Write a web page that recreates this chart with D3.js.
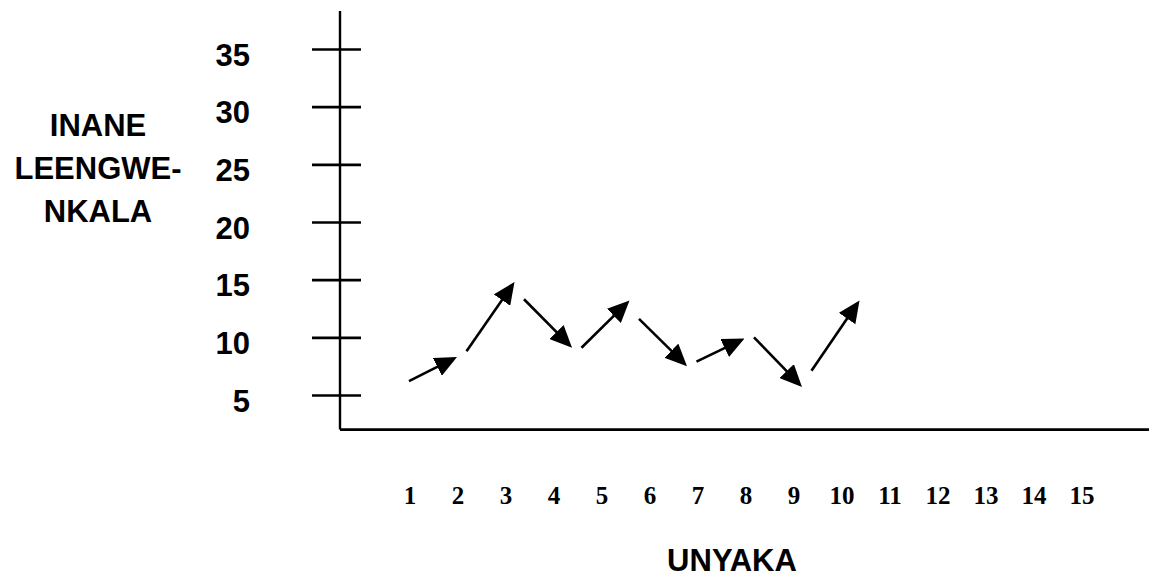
<!DOCTYPE html>
<body style="margin:0">
<svg width="1149" height="578"></svg>
<script src="https://d3js.org/d3.v7.min.js"></script>
<script>

// chart values
var years = d3.range(1, 16);
var yTicks = [5, 10, 15, 20, 25, 30, 35];
var arrowFrom = [6.2, 8.8, 13.3, 9.1, 11.6, 7.9, 10.0, 7.1];
var arrowTo   = [8.3, 14.8, 9.1, 13.2, 7.5, 9.9, 5.7, 13.2];
var yTitle = ["INANE", "LEENGWE-", "NKALA"];
var xTitle = "UNYAKA";

var svg = d3.select("svg");
var sans = "Liberation Sans, Arial, sans-serif",
    serif = "Liberation Serif, Times New Roman, serif";

var y = d3.scaleLinear()
    .domain([5, 35])
    .range([395, 49]);

var axisX = 340,
    axisBottom = 2,
    axisTop = 38.3;

// years along the bottom
var x = d3.scaleLinear()
    .domain([1, 15])
    .range([410, 1082]);

// each arrow sits in its own slot
var slot = d3.scaleBand()
    .domain(d3.range(arrowFrom.length))
    .range([409, 859.5])
    .paddingInner(0.165)
    .paddingOuter(0);

svg.append("defs").append("marker")
    .attr("id", "head")
    .attr("markerUnits", "userSpaceOnUse")
    .attr("markerWidth", 22)
    .attr("markerHeight", 20)
    .attr("refX", 17)
    .attr("refY", 10)
    .attr("orient", "auto")
  .append("path")
    .attr("d", "M0,0L22,10L0,20Z")
    .attr("fill", "#000");

// axis lines
svg.append("line")
    .attr("x1", axisX).attr("x2", axisX)
    .attr("y1", y(axisTop)).attr("y2", y(axisBottom))
    .attr("stroke", "#000").attr("stroke-width", 2.4);

svg.append("line")
    .attr("x1", axisX).attr("x2", 1149)
    .attr("y1", y(axisBottom)).attr("y2", y(axisBottom))
    .attr("stroke", "#000").attr("stroke-width", 2.6);

// y ticks crossing the axis
var gy = svg.append("g")
    .attr("transform", "translate(" + axisX + ",0)")
    .call(d3.axisLeft(y).tickValues(yTicks).tickSize(28).tickPadding(62));

gy.select(".domain").remove();
gy.selectAll(".tick line")
    .attr("x1", 21)
    .attr("stroke-width", 2.6);
gy.selectAll(".tick text")
    .attr("dy", 16)
    .style("font-family", sans)
    .style("font-size", "31px")
    .style("font-weight", "bold")
    .attr("fill", "#000");

// year labels
svg.append("g").selectAll("text")
    .data(years)
  .enter().append("text")
    .attr("x", function(d) { return x(d); })
    .attr("y", 504)
    .attr("text-anchor", "middle")
    .style("font-family", serif)
    .style("font-size", "25px")
    .style("font-weight", "bold")
    .text(function(d) { return d; });

// arrows
svg.append("g").selectAll("line")
    .data(arrowFrom)
  .enter().append("line")
    .attr("x1", function(d, i) { return slot(i); })
    .attr("y1", function(d) { return y(d); })
    .attr("x2", function(d, i) { return slot(i) + slot.bandwidth(); })
    .attr("y2", function(d, i) { return y(arrowTo[i]); })
    .attr("stroke", "#000")
    .attr("stroke-width", 2.6)
    .attr("marker-end", "url(#head)")
    .each(function() {
      // pull the end back a little so the head tip lands on the value
      var l = d3.select(this),
          x1 = +l.attr("x1"), y1 = +l.attr("y1"),
          x2 = +l.attr("x2"), y2 = +l.attr("y2"),
          len = Math.hypot(x2 - x1, y2 - y1),
          k = (len - 5) / len;
      l.attr("x2", x1 + (x2 - x1) * k).attr("y2", y1 + (y2 - y1) * k);
    });

// titles
svg.append("g").selectAll("text")
    .data(yTitle)
  .enter().append("text")
    .attr("x", 98)
    .attr("y", function(d, i) { return 136 + i * 43; })
    .attr("text-anchor", "middle")
    .style("font-family", sans)
    .style("font-size", "31px")
    .style("font-weight", "bold")
    .text(function(d) { return d; });

svg.append("text")
    .attr("x", 732)
    .attr("y", 571)
    .attr("text-anchor", "middle")
    .style("font-family", sans)
    .style("font-size", "31px")
    .style("font-weight", "bold")
    .text(xTitle);

</script>
</body>
